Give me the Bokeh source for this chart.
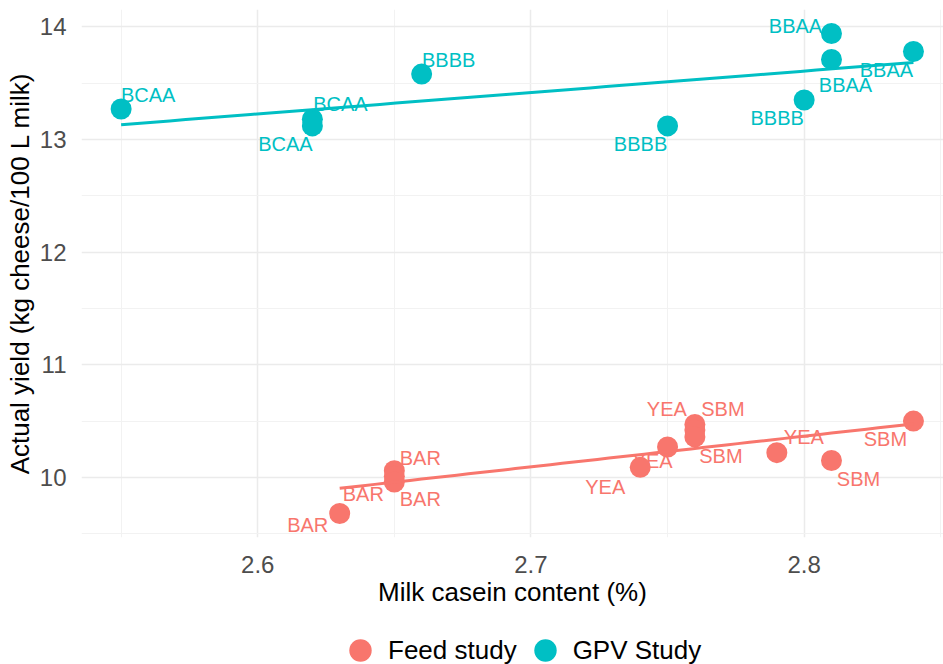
import numpy as np
from bokeh.plotting import figure
from bokeh.layouts import column
from bokeh.models import (ColumnDataSource, FixedTicker, Legend, LegendItem, Range1d)
from bokeh.core.properties import value
from bokeh.embed import file_html
from bokeh.resources import INLINE

# ---- data ----
feed_casein = [2.63, 2.65, 2.65, 2.65, 2.74, 2.75, 2.76, 2.79, 2.76, 2.76, 2.81, 2.84]
feed_yield = [9.68, 10.06, 10.01, 9.96, 10.09, 10.27, 10.47, 10.22, 10.42, 10.36, 10.15, 10.50]
feed_group = ["BAR", "BAR", "BAR", "BAR", "YEA", "YEA", "YEA", "YEA", "SBM", "SBM", "SBM", "SBM"]

gpv_casein = [2.55, 2.62, 2.62, 2.66, 2.75, 2.80, 2.81, 2.81, 2.84]
gpv_yield = [13.27, 13.18, 13.12, 13.58, 13.12, 13.35, 13.94, 13.71, 13.78]
gpv_group = ["BCAA", "BCAA", "BCAA", "BBBB", "BBBB", "BBBB", "BBAA", "BBAA", "BBAA"]

series_names = ["Feed study", "GPV Study"]
x_ticks = [2.6, 2.7, 2.8]
x_minor = [2.55, 2.65, 2.75, 2.85]
y_ticks = [10, 11, 12, 13, 14]
y_minor = [9.5, 10.5, 11.5, 12.5, 13.5]

# ---- label placement (screen pixel offsets, repel-like) ----
feed_dx = [-32, 26, -31, 26, -35, -15, -28, 27, 28, 26, 27, -28]
feed_dy = [11, -13, 18, 17, 20, 14, -15, -16, -21, 19, 18, 18]
gpv_dx = [27, 28, -27, 27, -27, -27, -36, 14, -27]
gpv_dy = [-14, -15, 18, -14, 18, 18, -8, 26, 18]

FEED_COL = "#F8766D"
GPV_COL = "#00BFC4"
FONT = "Liberation Sans"

p = figure(width=943, height=609, output_backend="svg", toolbar_location=None,
           x_range=Range1d(2.5355, 2.851), y_range=Range1d(9.467, 14.153),
           min_border_left=81, min_border_right=0, min_border_top=9,
           min_border_bottom=70)
p.outline_line_color = None
p.background_fill_color = "white"
p.border_fill_color = "white"

for ax in (p.xaxis[0], p.yaxis[0]):
    ax.axis_line_color = None
    ax.major_tick_line_color = None
    ax.minor_tick_line_color = None
    ax.major_label_text_font = FONT
    ax.major_label_text_font_size = "24px"
    ax.major_label_text_color = "#4D4D4D"
    ax.axis_label_text_font = FONT
    ax.axis_label_text_font_size = "26px"
    ax.axis_label_text_font_style = "normal"
    ax.axis_label_text_color = "black"

p.xaxis.ticker = FixedTicker(ticks=x_ticks, minor_ticks=x_minor)
p.yaxis.ticker = FixedTicker(ticks=y_ticks, minor_ticks=y_minor)
p.xaxis.axis_label = "Milk casein content (%)"
p.yaxis.axis_label = "Actual yield (kg cheese/100 L milk)"
p.xaxis.major_label_standoff = 12
p.xaxis.axis_label_standoff = 1
p.yaxis.major_label_standoff = 9
p.yaxis.axis_label_standoff = 2

for g in (p.xgrid[0], p.ygrid[0]):
    g.grid_line_color = "#EBEBEB"
    g.grid_line_width = 1.5
    g.minor_grid_line_color = "#F2F2F2"
    g.minor_grid_line_width = 1

feed_src = ColumnDataSource(dict(x=feed_casein, y=feed_yield, lab=feed_group, dx=feed_dx, dy=feed_dy))
gpv_src = ColumnDataSource(dict(x=gpv_casein, y=gpv_yield, lab=gpv_group, dx=gpv_dx, dy=gpv_dy))

p.scatter("x", "y", source=feed_src, size=21, color=FEED_COL, line_color=None)
p.scatter("x", "y", source=gpv_src, size=21, color=GPV_COL, line_color=None)

# linear fits (geom_smooth(method="lm", se=FALSE))
for xs, ys, col in ((feed_casein, feed_yield, FEED_COL), (gpv_casein, gpv_yield, GPV_COL)):
    xa = np.array(xs)
    ya = np.array(ys)
    b1, b0 = np.polyfit(xa, ya, 1)
    xl = np.linspace(xa.min(), xa.max(), 50)
    p.line(xl, b0 + b1 * xl, line_color=col, line_width=3)

for src, col in ((feed_src, FEED_COL), (gpv_src, GPV_COL)):
    p.text("x", "y", text="lab", source=src, x_offset="dx", y_offset="dy",
           text_align="center", text_baseline="middle", text_color=col,
           text_font=value(FONT), text_font_size="20px")

# ---- legend strip (separate figure below; its data lie outside its ranges) ----
leg_fig = figure(width=943, height=55, output_backend="svg", toolbar_location=None,
                 x_axis_type=None, y_axis_type=None,
                 x_range=Range1d(0, 1), y_range=Range1d(0, 1),
                 min_border_left=0, min_border_right=0, min_border_top=0, min_border_bottom=0)
leg_fig.outline_line_color = None
leg_fig.background_fill_color = "white"
leg_fig.border_fill_color = "white"
key_feed = leg_fig.scatter("x", "y", source=feed_src, size=21, color=FEED_COL, line_color=None)
key_gpv = leg_fig.scatter("x", "y", source=gpv_src, size=21, color=GPV_COL, line_color=None)

legend = Legend(items=[LegendItem(label=series_names[0], renderers=[key_feed]),
                       LegendItem(label=series_names[1], renderers=[key_gpv])],
                orientation="horizontal", location=(251, -14))
legend.border_line_color = None
legend.background_fill_alpha = 0
legend.padding = 0
legend.margin = 0
legend.spacing = 0
legend.glyph_width = 56
legend.glyph_height = 56
legend.label_standoff = 0
legend.label_text_font = FONT
legend.label_text_font_size = "26px"
legend.label_text_color = "black"
legend.label_text_baseline = "middle"
leg_fig.add_layout(legend)

layout = column(p, leg_fig, spacing=0)
open("out.html", "w").write(file_html(layout, INLINE))
